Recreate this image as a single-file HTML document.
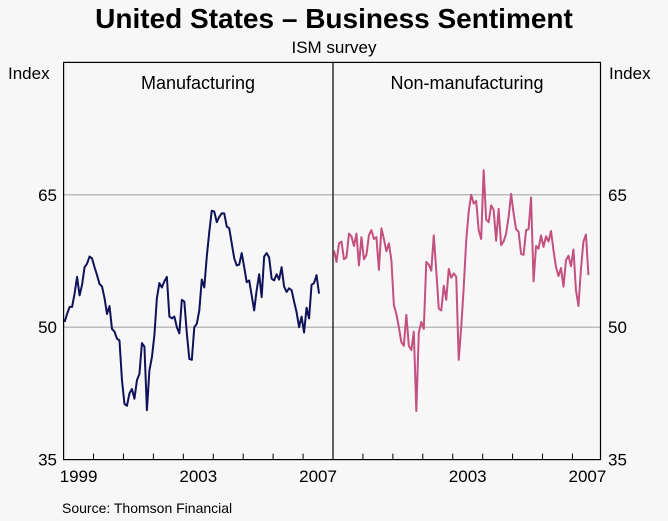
<!DOCTYPE html>
<html><head><meta charset="utf-8"><style>
body{margin:0;background:#f7f7f7;}
svg{display:block;font-family:"Liberation Sans",Arial,sans-serif;}
</style></head><body>
<svg id="chart" width="668" height="521" viewBox="0 0 668 521">
<rect x="0" y="0" width="668" height="521" fill="#f7f7f7"/>
<text x="334" y="28" text-anchor="middle" font-size="28" font-weight="bold" fill="#000">United States – Business Sentiment</text>
<text x="334" y="53" text-anchor="middle" font-size="17" fill="#000">ISM survey</text>
<text x="8" y="79" font-size="17" fill="#000">Index</text>
<text x="609" y="79" font-size="17" fill="#000">Index</text>
<text x="198" y="89" text-anchor="middle" font-size="18" fill="#000">Manufacturing</text>
<text x="467" y="89" text-anchor="middle" font-size="18" fill="#000">Non-manufacturing</text>
<text x="62" y="513" font-size="14" fill="#000">Source: Thomson Financial</text>
<g id="grid"></g><g id="axes"></g><g id="series"></g>
</svg>
<script>
const yTicks=[35,50,65,80];
const gridValues=[50,65];
const xYearLabels=["1999","2003","2007"];
const xYearLabelIdx=[0,4,8];
const manufacturing=[50.6,51.5,52.3,52.3,53.8,55.7,53.6,54.8,56.8,57.2,58.0,57.8,56.8,55.9,54.9,54.6,53.3,51.5,52.4,49.8,49.5,48.7,48.5,44.0,41.3,41.1,42.5,43.0,41.9,44.0,44.7,48.2,47.8,40.6,45.1,46.6,49.1,53.3,55.0,54.5,55.2,55.7,51.2,51.0,51.2,50.0,49.3,53.1,52.9,49.3,46.4,46.3,50.0,50.4,51.9,55.4,54.5,58.0,60.8,63.2,63.1,61.9,62.5,62.9,62.9,61.4,61.2,59.5,57.8,57.0,57.1,58.4,56.8,55.1,55.3,53.6,51.9,54.2,56.0,53.4,58.0,58.4,57.9,55.5,55.3,56.0,55.4,56.8,54.6,54.0,54.4,54.2,52.9,51.7,50.0,51.2,49.4,52.2,51.0,54.8,55.0,55.9,53.8];
const nonManufacturing=[58.7,57.4,59.5,59.7,57.7,57.9,60.6,60.3,59.2,60.6,57.0,60.2,57.7,58.2,60.4,61.0,60.0,60.2,56.5,61.2,60.0,58.6,59.5,57.6,52.5,51.5,50.0,48.3,47.9,51.4,47.9,47.4,49.5,40.5,49.4,50.6,49.8,57.4,57.1,56.4,60.4,56.4,52.1,51.9,54.7,53.1,56.6,55.6,56.1,55.7,46.3,50.0,54.5,59.8,63.1,65.0,64.0,64.3,61.0,60.0,67.8,62.2,61.9,63.8,63.3,59.8,63.4,59.3,59.7,60.6,62.5,65.1,62.9,61.1,60.8,58.3,58.2,61.0,61.1,64.7,55.2,59.2,58.9,60.4,59.1,60.3,59.7,60.9,58.7,56.8,55.8,56.7,54.6,57.6,58.1,56.9,58.8,54.2,52.4,56.6,59.7,60.5,55.9];

const NS="http://www.w3.org/2000/svg";
const plotTop=62.4,plotBot=459.6,L=63.6,M=333,R=600.5,yMin=35,yMax=80;
const yearW=(M-L)/9;
function yScale(v){return plotBot-(v-yMin)/(yMax-yMin)*(plotBot-plotTop);}
function xScale(panelStart,i){return panelStart+1+i*yearW/12;}
function mk(tag,attrs,parent){const e=document.createElementNS(NS,tag);for(const k in attrs)e.setAttribute(k,attrs[k]);parent.appendChild(e);return e;}
const grid=document.getElementById('grid'),axes=document.getElementById('axes'),series=document.getElementById('series');
gridValues.forEach(v=>{
  const g=mk('line',{x1:L,x2:R,y1:yScale(v),y2:yScale(v),stroke:'#a8a8a8','stroke-width':1.2},grid);
  
  
});
yTicks.filter(v=>v<80).forEach(v=>{
  const t1=mk('text',{x:57,y:yScale(v)+6,'text-anchor':'end','font-size':17},axes);t1.textContent=v;
  
  
  const t2=mk('text',{x:608,y:yScale(v)+6,'text-anchor':'start','font-size':17},axes);t2.textContent=v;
  
  
});
[L,M].forEach((ps,p)=>{
  for(let k=1;k<9;k++){
    const x=ps+k*yearW;
    const tk=mk('line',{x1:x,x2:x,y1:plotBot,y2:plotBot-6,stroke:'#000','stroke-width':1},axes);
    
    
  }
  xYearLabels.forEach((lab,j)=>{
    if(p===1&&j===0)return;
    const t=mk('text',{x:ps+(xYearLabelIdx[j]+0.5)*yearW,y:482,'text-anchor':'middle','font-size':17},axes);t.textContent=lab;
    
    
  });
});
const frame=mk('rect',{x:L,y:plotTop,width:R-L,height:plotBot-plotTop,fill:'none',stroke:'#000','stroke-width':1.2},axes);


const div=mk('line',{x1:M,x2:M,y1:plotTop,y2:plotBot,stroke:'#000','stroke-width':1.2},axes);


function line(data,ps,color,name){
  const pts=data.map((v,i)=>xScale(ps,i).toFixed(2)+','+yScale(v).toFixed(2)).join(' ');
  const pl=mk('polyline',{points:pts,fill:'none',stroke:color,'stroke-width':2,'stroke-linejoin':'round'},series);
  
  
}
line(manufacturing,L,'#0f1259','manufacturing-line');
line(nonManufacturing,M,'#c4507f','non-manufacturing-line');
</script>
</body></html>
